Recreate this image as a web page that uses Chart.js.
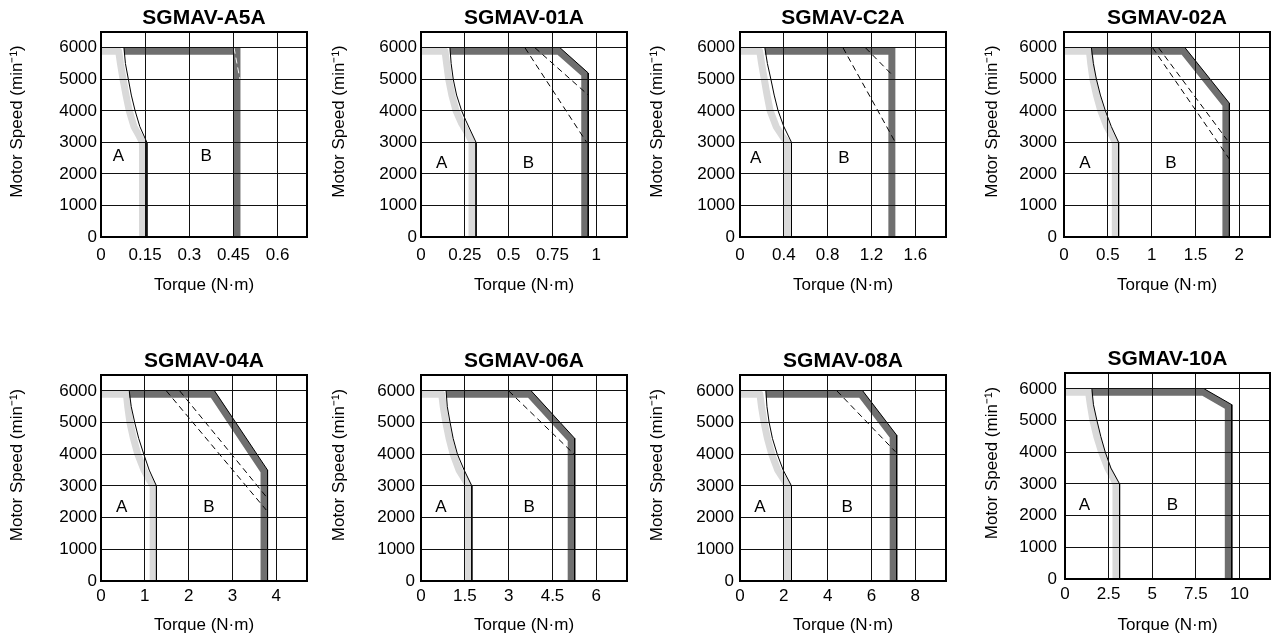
<!DOCTYPE html>
<html>
<head>
<meta charset="utf-8">
<script src="https://cdn.jsdelivr.net/npm/chart.js@4/dist/chart.umd.min.js"></script>
<style>
  body { margin: 0; background: #fff; }
  #wrap { position: relative; width: 1277px; height: 635px; overflow: hidden; }
  canvas { position: absolute; }
</style>
</head>
<body>
<div id="wrap"></div>
<script>
const FONT = '"Liberation Sans", Arial, Helvetica, sans-serif';

const models = ['SGMAV-A5A', 'SGMAV-01A', 'SGMAV-C2A', 'SGMAV-02A', 'SGMAV-04A', 'SGMAV-06A', 'SGMAV-08A', 'SGMAV-10A'];
const torqueMax = [0.7, 1.175, 1.88, 2.35, 4.7, 7.05, 9.4, 11.75];
const torqueTicks = [
    [0, 0.15, 0.3, 0.45, 0.6],
    [0, 0.25, 0.5, 0.75, 1],
    [0, 0.4, 0.8, 1.2, 1.6],
    [0, 0.5, 1, 1.5, 2],
    [0, 1, 2, 3, 4],
    [0, 1.5, 3, 4.5, 6],
    [0, 2, 4, 6, 8],
    [0, 2.5, 5, 7.5, 10]
];
const torqueLabels = [
    ['0', '0.15', '0.3', '0.45', '0.6'],
    ['0', '0.25', '0.5', '0.75', '1'],
    ['0', '0.4', '0.8', '1.2', '1.6'],
    ['0', '0.5', '1', '1.5', '2'],
    ['0', '1', '2', '3', '4'],
    ['0', '1.5', '3', '4.5', '6'],
    ['0', '2', '4', '6', '8'],
    ['0', '2.5', '5', '7.5', '10']
];
const speedMax = 6500;
const speedTicks = [0, 1000, 2000, 3000, 4000, 5000, 6000];

// continuous duty zone (light band) and its boundary
const contBand = [
    [[0,5890],[0.06,5890],[0.066,5500],[0.075,5000],[0.085,4500],[0.096,4000],[0.112,3500],[0.13,3200],[0.141,3000],[0.141,0]],
    [[0,5890],[0.137,5890],[0.146,5500],[0.158,5000],[0.176,4500],[0.2,4000],[0.232,3600],[0.27,3250],[0.291,3000],[0.291,0]],
    [[0,5890],[0.18,5890],[0.197,5500],[0.222,5000],[0.247,4500],[0.275,4000],[0.33,3500],[0.39,3180],[0.433,3000],[0.433,0]],
    [[0,5890],[0.29,5890],[0.305,5500],[0.33,5000],[0.37,4500],[0.42,4000],[0.49,3500],[0.55,3200],[0.585,3000],[0.585,0]],
    [[0,5890],[0.58,5890],[0.61,5500],[0.66,5000],[0.74,4500],[0.84,4000],[0.98,3500],[1.1,3200],[1.19,3000],[1.19,0]],
    [[0,5890],[0.71,5890],[0.76,5500],[0.85,5000],[0.96,4500],[1.1,4000],[1.3,3500],[1.5,3200],[1.63,3000],[1.63,0]],
    [[0,5890],[0.91,5890],[0.98,5500],[1.1,5000],[1.25,4500],[1.45,4000],[1.72,3500],[2.0,3200],[2.17,3000],[2.17,0]],
    [[0,5890],[1.35,5890],[1.45,5500],[1.6,5000],[1.82,4500],[2.1,4000],[2.45,3500],[2.75,3200],[2.92,3000],[2.92,0]]
];
const contEdge = [
    [[0.078,6000],[0.083,5500],[0.093,5000],[0.103,4500],[0.116,4000],[0.132,3500],[0.156,3000],[0.156,0]],
    [[0.165,6000],[0.172,5500],[0.184,5000],[0.203,4500],[0.232,4000],[0.255,3700],[0.314,3000],[0.314,0]],
    [[0.227,6000],[0.25,5500],[0.282,5000],[0.312,4500],[0.348,4000],[0.40,3500],[0.47,3000],[0.47,0]],
    [[0.313,6000],[0.335,5500],[0.37,5000],[0.415,4500],[0.472,4000],[0.54,3500],[0.623,3000],[0.623,0]],
    [[0.644,6000],[0.69,5500],[0.77,5000],[0.86,4500],[0.977,4000],[1.1,3500],[1.265,3000],[1.265,0]],
    [[0.859,6000],[0.9,5500],[0.996,5000],[1.1,4500],[1.248,4000],[1.477,3500],[1.74,3000],[1.74,0]],
    [[1.18,6000],[1.23,5500],[1.33,5000],[1.48,4500],[1.70,4000],[1.97,3500],[2.35,3000],[2.35,0]],
    [[1.54,6000],[1.63,5500],[1.83,5000],[2.05,4500],[2.31,4000],[2.63,3500],[3.13,3000],[3.13,0]]
];

// intermittent duty zone (dark band) and its outer edge
const intBand = [
    [[0.078,5890],[0.462,5890],[0.462,0]],
    [[0.165,5890],[0.785,5890],[0.934,5161],[0.934,0]],
    [[0.227,5890],[1.386,5890],[1.386,0]],
    [[0.313,5890],[1.362,5890],[1.847,4203],[1.847,0]],
    [[0.644,5890],[2.55,5890],[3.72,3460],[3.72,0]],
    [[0.859,5890],[3.72,5890],[5.14,4457],[5.14,0]],
    [[1.18,5890],[5.52,5890],[6.99,4563],[6.99,0]],
    [[1.54,5890],[7.92,5890],[9.36,5436],[9.36,0]]
];
const intEdge = [
    [],
    [[0.793,6000],[0.954,5200],[0.954,0]],
    [],
    [[1.381,6000],[1.887,4240],[1.887,0]],
    [[2.59,6000],[3.80,3500],[3.80,0]],
    [[3.77,6000],[5.26,4500],[5.26,0]],
    [[5.6,6000],[7.15,4600],[7.15,0]],
    [[7.98,6000],[9.56,5500],[9.56,0]]
];

// dashed limit lines
const dash1 = [
    [[0.452,6000],[0.472,5000]],
    [[0.593,6000],[0.945,3000]],
    [[0.94,6000],[1.418,3000]],
    [[1.011,6000],[1.887,2470]],
    [[1.49,6000],[3.77,2240]],
    [[3.0,6000],[5.24,4000]],
    [[4.42,6000],[7.09,4080]],
    []
];
const dash2 = [
    [],
    [[0.65,6000],[0.954,4500]],
    [[1.145,6000],[1.40,5100]],
    [[1.079,6000],[1.86,3080]],
    [[1.795,6000],[3.77,2660]],
    [],
    [],
    []
];

const labelA = [[0.059,2550],[0.118,2340],[0.142,2500],[0.238,2340],[0.47,2320],[0.68,2320],[0.91,2320],[1.115,2340]];
const labelB = [[0.357,2550],[0.612,2340],[0.948,2500],[1.219,2340],[2.46,2320],[3.70,2320],[4.89,2320],[6.15,2340]];

/* layout: plot boxes [left, right, top, bottom] in page pixels */
const boxes = [
    [101,307,32,237], [421,627,32,237], [740,946,32,237], [1064,1270,32,237],
    [101,307,375,581], [421,627,375,581], [740,946,375,581], [1065,1270,373,579]
];
const yTickGap = [4, 4, 5, 7, 4, 6, 6, 8];
const yTitleGap = [84, 82, 83, 72, 84, 82, 83, 73];

const LIGHT = '#d9d9d9';
const DARK = '#6f6f6f';

const pts = arr => arr.map(([x, y]) => ({x, y}));

const line = (data, color, width, extra) => Object.assign({
    data: pts(data),
    borderColor: color,
    borderWidth: width,
    pointRadius: 0,
    showLine: true,
    fill: false,
    tension: 0,
    borderCapStyle: 'butt',
    borderJoinStyle: 'miter'
}, extra || {})

const decor = {
    id: 'decor',
    afterDraw(chart, args, opts) {
        const {ctx, chartArea: a, scales: {x, y}} = chart
        ctx.save()
        ctx.strokeStyle = '#000'
        ctx.lineWidth = 2
        ctx.strokeRect(a.left, a.top, a.right - a.left, a.bottom - a.top)

        ctx.fillStyle = '#000'
        ctx.textAlign = 'center'
        ctx.font = 'bold 21px ' + FONT
        ctx.textBaseline = 'alphabetic'
        ctx.fillText(opts.title, (a.left + a.right) / 2, a.top - 8)

        ctx.font = '17px ' + FONT
        ctx.textBaseline = 'middle'
        ctx.fillText('A', x.getPixelForValue(opts.a[0]), y.getPixelForValue(opts.a[1]))
        ctx.fillText('B', x.getPixelForValue(opts.b[0]), y.getPixelForValue(opts.b[1]))

        ctx.translate(a.left - opts.gap, (a.top + a.bottom) / 2 - 13)
        ctx.rotate(-Math.PI / 2)
        ctx.fillText('Motor Speed (min\u207B\u00B9)', 0, 0)
        ctx.restore()
    }
}

const wrap = document.getElementById('wrap')

models.forEach((name, i) => {
    const [L, R, T, B] = boxes[i]
    const row = i < 4 ? 0 : 1
    const cTop = row ? T - 35 : 0
    const cBottom = row ? 635 : 300
    const cLeft = L - 101
    const cW = (R - L) + 101 + 6
    const cH = cBottom - cTop

    const canvas = document.createElement('canvas')
    canvas.width = cW
    canvas.height = cH
    canvas.style.left = cLeft + 'px'
    canvas.style.top = cTop + 'px'
    wrap.appendChild(canvas)

    const datasets = []
    if (dash1[i].length) datasets.push(line(dash1[i], i === 0 ? '#f2f2f2' : '#000', 1, {borderDash: [6, 4]}))
    if (dash2[i].length) datasets.push(line(dash2[i], '#000', 1, {borderDash: [6, 4]}))
    datasets.push(line(contEdge[i], '#000', 1, {borderJoinStyle: 'round'}))
    if (intEdge[i].length) datasets.push(line(intEdge[i], '#000', 1))
    datasets.push(line(intBand[i], DARK, 7))
    datasets.push(line(contBand[i], LIGHT, 7, {borderJoinStyle: 'round'}))

    const gridOpts = {color: '#111', lineWidth: 1, drawTicks: false, z: 1}
    const borderOpts = {color: '#000', width: 1, z: 1}
    const tickFont = {family: FONT, size: 17, lineHeight: 1}

    new Chart(canvas, {
        type: 'scatter',
        data: {datasets},
        options: {
            responsive: false,
            animation: false,
            events: [],
            layout: {padding: {top: T - cTop, right: 6, left: 0, bottom: 0}},
            plugins: {
                legend: {display: false},
                tooltip: {enabled: false},
                decor: {title: name, a: labelA[i], b: labelB[i], gap: yTitleGap[i]}
            },
            scales: {
                x: {
                    type: 'linear',
                    min: 0,
                    max: torqueMax[i],
                    afterBuildTicks: s => { s.ticks = torqueTicks[i].map(v => ({value: v})) },
                    afterFit: s => { s.height = cBottom - B },
                    ticks: {
                        padding: row ? 7 : 9.5,
                        color: '#000',
                        font: tickFont,
                        maxRotation: 0,
                        autoSkip: false,
                        callback: (v, k) => torqueLabels[i][k]
                    },
                    grid: gridOpts,
                    border: borderOpts,
                    title: {
                        display: true,
                        text: 'Torque (N·m)',
                        color: '#000',
                        font: {family: FONT, size: 17, lineHeight: 1},
                        padding: {top: 0, bottom: row ? 1.5 : 6.5}
                    }
                },
                y: {
                    type: 'linear',
                    min: 0,
                    max: speedMax,
                    afterBuildTicks: s => { s.ticks = speedTicks.map(v => ({value: v})) },
                    afterFit: s => { s.width = 101 },
                    ticks: {
                        padding: yTickGap[i],
                        color: '#000',
                        font: tickFont,
                        autoSkip: false,
                        callback: v => String(v)
                    },
                    grid: gridOpts,
                    border: borderOpts
                }
            }
        },
        plugins: [decor]
    })
})
</script>
</body>
</html>
